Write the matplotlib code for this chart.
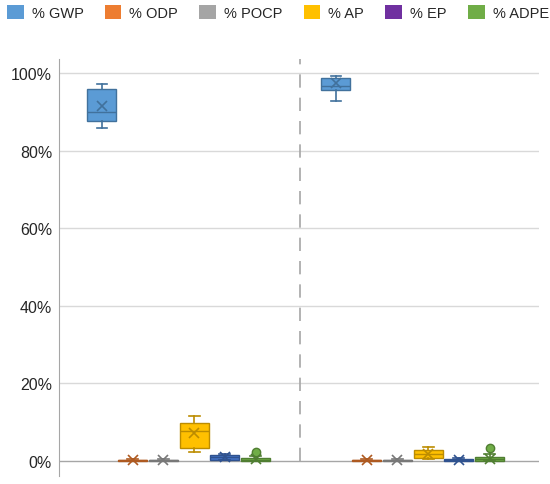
import numpy as np
import matplotlib
matplotlib.use("Agg")
import matplotlib.pyplot as plt
from matplotlib.patches import Patch

plt.rcParams['font.family'] = ['Liberation Sans', 'DejaVu Sans']

# series shown in the legend
series = ['% GWP', '% ODP', '% POCP', '% AP', '% EP', '% ADPE']
legend_colors = ['#5B9BD5', '#ED7D31', '#A5A5A5', '#FFC000', '#7030A0', '#70AD47']
box_colors = ['#5B9BD5', '#ED7D31', '#A5A5A5', '#FFC000', '#4472C4', '#70AD47']
edge_colors = ['#41719C', '#AE5A21', '#787878', '#BC8C00', '#2F528F', '#507E32']

# box statistics (percent), first group
whislo_1 = [85.8, 0.0, 0.0, 2.3, 0.1, 0.0]
q1_1 = [87.6, 0.0, 0.0, 3.4, 0.3, 0.0]
med_1 = [89.9, 0.1, 0.1, 7.7, 0.9, 0.3]
q3_1 = [95.9, 0.2, 0.2, 9.8, 1.5, 0.8]
whishi_1 = [97.2, 0.4, 0.4, 11.6, 1.8, 1.3]
mean_1 = [91.5, 0.3, 0.3, 7.2, 1.0, 0.5]
fliers_1 = [[], [], [], [], [], [2.4]]

# second group
whislo_2 = [92.8, 0.0, 0.0, 0.5, 0.0, 0.0]
q1_2 = [95.6, 0.0, 0.0, 0.7, 0.0, 0.0]
med_2 = [96.6, 0.1, 0.1, 1.8, 0.2, 0.4]
q3_2 = [98.7, 0.2, 0.2, 2.9, 0.5, 0.9]
whishi_2 = [99.2, 0.4, 0.4, 3.6, 0.7, 1.8]
mean_2 = [97.3, 0.3, 0.3, 1.9, 0.3, 0.5]
fliers_2 = [[], [], [], [], [], [3.3]]

y_ticks = [0, 20, 40, 60, 80, 100]
y_labels = ['0%', '20%', '40%', '60%', '80%', '100%']

group_starts = [0.179, 1.154]
step = 0.128
box_w = 0.121


def stats(i, lo, q1, med, q3, hi, mean, fl):
    return dict(whislo=lo[i], q1=q1[i], med=med[i], q3=q3[i], whishi=hi[i],
                mean=mean[i], fliers=np.array(fl[i]))


fig = plt.figure(figsize=(5.5, 4.85), dpi=100)
ax = fig.add_axes([59 / 550, 1 - 477 / 485, 480 / 550, 417 / 485])
ax.set_xlim(0, 2)
ax.set_ylim(-3.9, 103.6)

for y in y_ticks[1:]:
    ax.axhline(y, color='#D9D9D9', lw=1, zorder=0)
ax.axhline(0, color='#A6A6A6', lw=1, zorder=1)
ax.plot([1.004, 1.004], [0, 103.6], color='#A6A6A6', lw=1.2,
        dashes=(8, 6), zorder=1)

for i in range(len(series)):
    bs = [stats(i, whislo_1, q1_1, med_1, q3_1, whishi_1, mean_1, fliers_1),
          stats(i, whislo_2, q1_2, med_2, q3_2, whishi_2, mean_2, fliers_2)]
    pos = [g + i * step for g in group_starts]
    ec = edge_colors[i]
    ax.bxp(bs, positions=pos, widths=box_w, patch_artist=True, showmeans=True,
           manage_ticks=False, capwidths=0.045,
           boxprops=dict(facecolor=box_colors[i], edgecolor=ec, lw=1),
           whiskerprops=dict(color=ec, lw=1.2),
           capprops=dict(color=ec, lw=1.2),
           medianprops=dict(color=ec, lw=1),
           meanprops=dict(marker='x', markeredgecolor=ec, markersize=7,
                          markeredgewidth=1.2),
           flierprops=dict(marker='o', markerfacecolor=box_colors[i],
                           markeredgecolor=ec, markersize=6),
           zorder=3)

for s in ['top', 'right', 'bottom']:
    ax.spines[s].set_visible(False)
ax.spines['left'].set_color('#A6A6A6')
ax.set_xticks([])
ax.set_yticks(y_ticks)
ax.set_yticklabels(y_labels)
ax.tick_params(axis='y', length=0, pad=5, labelsize=11.5, labelcolor='#262626')

handles = [Patch(facecolor=c, edgecolor='none') for c in legend_colors]
fig.legend(handles, series, loc='upper center', bbox_to_anchor=(0.505, 1.006),
           ncol=6, frameon=False, fontsize=10.5, handlelength=1.15,
           handleheight=1.15, handletextpad=0.55, columnspacing=1.45,
           borderpad=0.1, labelcolor='#262626')

fig.savefig('out.png', dpi=100)
